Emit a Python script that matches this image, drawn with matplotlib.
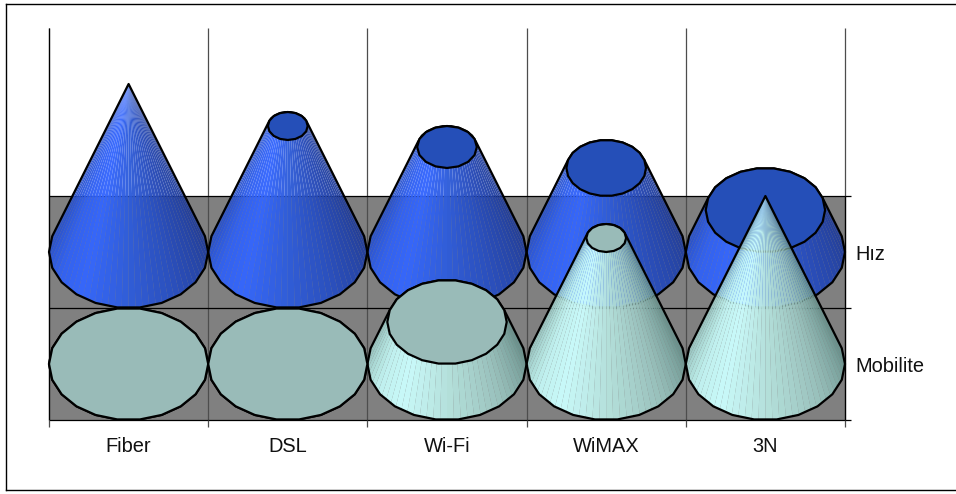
import numpy as np
import matplotlib
matplotlib.use('Agg')
import matplotlib.pyplot as plt
from matplotlib.collections import PolyCollection
from matplotlib.lines import Line2D
from matplotlib.patches import Polygon

plt.rcParams['font.family'] = ['Liberation Sans', 'DejaVu Sans']

# datos
categorias = ['Fiber', 'DSL', 'Wi-Fi', 'WiMAX', '3N']
filas = ['Mobilite', 'Hız']
hiz = [100, 75, 62.5, 50, 25]
mobilite = [0, 0, 25, 75, 100]

W, H = 956, 494
ALTO = 1.5   # altura de 100 en unidades de fila

# angulo -> color del cuerpo (0 = derecha, 90 = frente, 180 = izquierda)
ang_ref = [0, 45, 90, 125, 150, 180]
azul_ref = np.array([[0.13, 0.24, 0.60], [0.15, 0.29, 0.72], [0.18, 0.36, 0.86],
                     [0.20, 0.40, 1.00], [0.19, 0.38, 0.95], [0.16, 0.32, 0.80]])
cian_ref = np.array([[0.42, 0.58, 0.56], [0.60, 0.76, 0.74], [0.72, 0.90, 0.88],
                     [0.80, 1.00, 1.00], [0.76, 0.96, 0.95], [0.62, 0.80, 0.78]])
COLOR_TAPA = {'azul': '#254fb8', 'cian': '#99bbb8'}


def elipse(xc, yc, r, n):
    t = np.linspace(0, 2*np.pi, n, endpoint=False)
    return np.column_stack([xc + r*np.cos(t), yc - r*np.sin(t)])


def casco(puntos):
    # casco convexo, para la silueta
    pts = sorted(set(map(tuple, np.round(puntos, 6))))
    def media(seq):
        out = []
        for p in seq:
            while len(out) > 1 and ((out[-1][0]-out[-2][0])*(p[1]-out[-2][1])
                                    - (out[-1][1]-out[-2][1])*(p[0]-out[-2][0])) <= 0:
                out.pop()
            out.append(p)
        return out[:-1]
    return np.array(media(pts) + media(pts[::-1]))


def cono(ax, xc, yc, v, tono, z):
    frac = v/100
    r_top = 0.5*(1-frac)
    y_top = yc + ALTO*frac
    silueta = casco(np.vstack([elipse(xc, yc, 0.5, 22), elipse(xc, y_top, r_top, 22)]))
    if v > 0:
        n = 72
        base = elipse(xc, yc, 0.5, n)
        top = elipse(xc, y_top, r_top, n)
        refs = azul_ref if tono == 'azul' else cian_ref
        quads, colores = [], []
        for i in range(n):
            j = (i+1) % n
            q = np.array([base[i], base[j], top[j], top[i]])
            # solo las caras que miran al frente
            area = 0.5*np.sum(q[:, 0]*np.roll(q[:, 1], -1) - np.roll(q[:, 0], -1)*q[:, 1])
            if area >= 0:
                continue
            a = np.degrees(2*np.pi*(i+0.5)/n)
            a = min(a, 180) if a < 270 else 0
            quads.append(q)
            colores.append([np.interp(a, ang_ref, refs[:, c]) for c in range(3)])
        pc = PolyCollection(quads, facecolors=colores, edgecolors='none', linewidths=0,
                            alpha=0.96, zorder=z, antialiaseds=True)
        ax.add_collection(pc)
        pc.set_clip_path(Polygon(silueta, transform=ax.transData))
    ax.add_patch(Polygon(silueta, closed=True, fill=False, edgecolor='black', lw=1.6,
                         joinstyle='round', zorder=z+0.1, clip_on=False))
    if r_top > 0:
        ax.add_patch(Polygon(elipse(xc, y_top, r_top, 22 if r_top > 0.2 else 16), closed=True,
                             facecolor=COLOR_TAPA[tono], edgecolor='black', lw=1.6,
                             zorder=z+0.2, clip_on=False))


fig = plt.figure(figsize=(W/100, H/100), dpi=100)
ax = fig.add_axes([49/W, (H-420)/H, 796/W, 392/H])
ax.set_xlim(0, len(categorias))
ax.set_ylim(0, 3.5)
for s in ax.spines.values():
    s.set_visible(False)

# piso y lineas
ax.axhspan(0, 2, facecolor='#808080', edgecolor='none', zorder=0)
ax.vlines(range(len(categorias)+1), 0, 3.5, color='#4d4d4d', lw=0.9, zorder=1, clip_on=False)
ax.vlines(0, 0, 3.5, color='black', lw=0.9, zorder=1, clip_on=False)
ax.hlines([0, 1, 2], 0, len(categorias), color='black', lw=0.9, zorder=1, clip_on=False)
ax.vlines(len(categorias), 0, 2, color='black', lw=0.9, zorder=1, clip_on=False)

# ejes
ax.set_xticks(range(len(categorias)+1), labels=[])
ax.set_xticks(np.arange(len(categorias))+0.5, labels=categorias, minor=True)
ax.tick_params(axis='x', which='major', length=5, width=0.9, color='#4d4d4d')
ax.tick_params(axis='x', which='minor', length=0, pad=12, labelsize=14.4, labelcolor='#111111')
ax.yaxis.tick_right()
ax.set_yticks([0, 1, 2], labels=[])
ax.set_yticks([0.5, 1.5], labels=filas, minor=True)
ax.tick_params(axis='y', which='major', length=4.5, width=0.9, color='black')
ax.tick_params(axis='y', which='minor', length=0, pad=7.5, labelsize=14.4, labelcolor='#111111')

# primero la fila de atras
for i, v in enumerate(hiz):
    cono(ax, i+0.5, 1.5, v, 'azul', 3+i*0.01)
for i, v in enumerate(mobilite):
    cono(ax, i+0.5, 0.5, v, 'cian', 5+i*0.01)

# marco exterior
fig.add_artist(Line2D([6/W, 6/W], [1-4/H, 1-490/H], color='black', lw=1.0))
fig.add_artist(Line2D([6/W, 1], [1-4.5/H, 1-4.5/H], color='black', lw=1.0))
fig.add_artist(Line2D([6/W, 1], [1-490/H, 1-490/H], color='black', lw=1.0))

fig.savefig('out.png', dpi=100)
